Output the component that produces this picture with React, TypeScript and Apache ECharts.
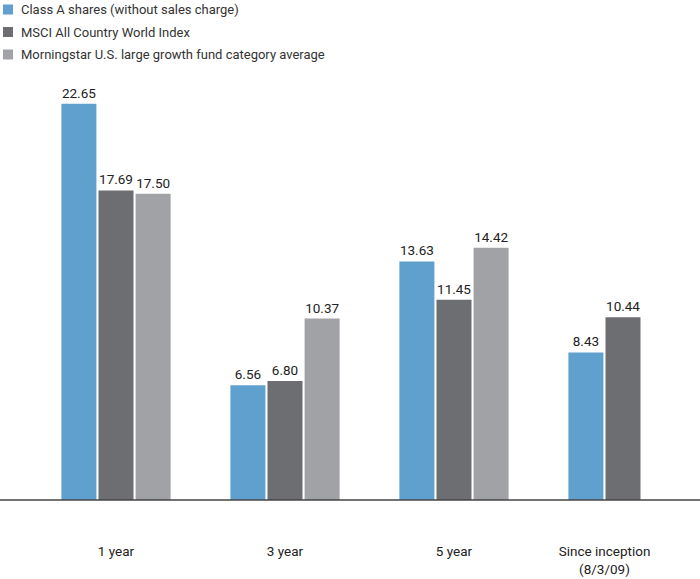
import React, { useEffect, useRef } from "react";
import * as echarts from "echarts";

const categories = ["1 year", "3 year", "5 year", "Since inception\n(8/3/09)"];
const seriesNames = [
  "Class A shares (without sales charge)",
  "MSCI All Country World Index",
  "Morningstar U.S. large growth fund category average",
];
const classA = [22.65, 6.56, 13.63, 8.43];
const msci = [17.69, 6.8, 11.45, 10.44];
const morningstar = [17.5, 10.37, 14.42, null];
const colors = ["#5fa0cf", "#6d6e72", "#a1a2a5"];

const FONT = "'Roboto', sans-serif";

export default function App() {
  const ref = useRef<HTMLDivElement>(null);
  useEffect(() => {
    const chart = echarts.init(ref.current!, null, { renderer: "svg" });
    const values = [classA, msci, morningstar];
    chart.setOption({
      animation: false,
      backgroundColor: "#ffffff",
      textStyle: { fontFamily: FONT },
      legend: {
        orient: "vertical",
        left: 3,
        top: 3,
        padding: 0,
        itemWidth: 10,
        itemHeight: 10,
        itemGap: 9.5,
        icon: "rect",
        textStyle: { fontFamily: FONT, fontSize: 13, color: "#333", padding: [0, 0, 0, 3] },
        data: seriesNames,
      },
      grid: { left: 31.5, width: 676, top: 62.5, height: 437.5 },
      xAxis: {
        type: "category",
        data: categories.map((c, i) =>
          i === 3 ? { value: c, textStyle: { padding: [0, 37, 0, 0] } } : c
        ),
        axisLine: { show: false },
        axisTick: { show: false },
        axisLabel: {
          margin: 42,
          fontFamily: FONT,
          fontSize: 13.5,
          lineHeight: 18,
          color: "#222",
        },
      },
      yAxis: { type: "value", min: 0, max: 25, show: false, splitLine: { show: false } },
      graphic: [
        {
          type: "line",
          shape: { x1: 0, y1: 500, x2: 700, y2: 500 },
          style: { stroke: "#444", lineWidth: 1.5 },
          z: 10,
        },
      ],
      series: seriesNames.map((name, i) => ({
        name,
        type: "bar",
        data: values[i],
        barWidth: 35,
        barGap: "6%",
        itemStyle: { color: colors[i] },
        label: {
          show: true,
          position: "top",
          distance: 4,
          fontFamily: FONT,
          fontSize: 13.5,
          color: "#222",
          formatter: (p: any) => Number(p.value).toFixed(2),
        },
      })),
    });
    return () => chart.dispose();
  }, []);
  return (
    <div style={{ position: "fixed", left: 0, top: 0, width: 700, height: 579, overflow: "hidden" }}>
      <div ref={ref} style={{ width: 720, height: 579 }} />
    </div>
  );
}
